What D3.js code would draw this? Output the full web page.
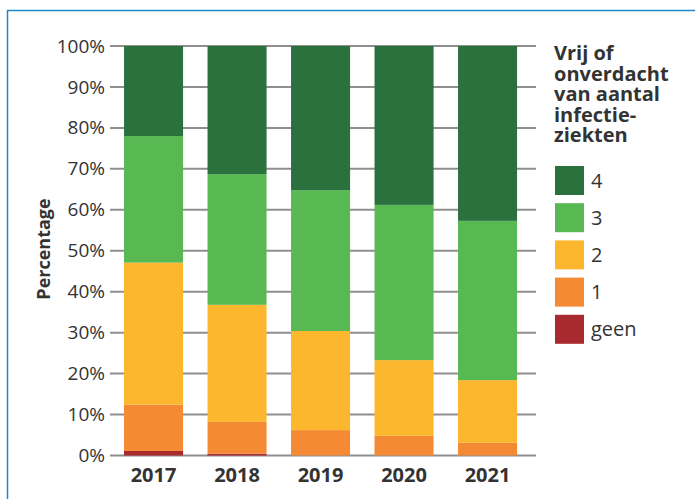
<!DOCTYPE html>
<html>
<head>
<meta charset="utf-8">
<script src="https://cdn.jsdelivr.net/npm/d3@7"></script>
<style>
  html, body { margin: 0; padding: 0; background: #fff; }
  svg { display: block; }
  text { font-family: "Open Sans", "Noto Sans", sans-serif; fill: #333; }
</style>
</head>
<body>
<svg id="chart" width="695" height="499"></svg>
<script>
const years = ["2017", "2018", "2019", "2020", "2021"];
const seriesKeys = ["geen", "1", "2", "3", "4"];
const geen = [1.1, 0.45, 0, 0, 0];
const een = [11.3, 7.75, 6.2, 4.8, 3.1];
const twee = [34.7, 28.6, 24.2, 18.5, 15.3];
const drie = [30.9, 31.9, 34.4, 37.9, 38.9];
const vier = [22.0, 31.3, 35.2, 38.8, 42.7];
const yTicks = [0, 10, 20, 30, 40, 50, 60, 70, 80, 90, 100];
const colors = ["#a82a2e", "#f48a34", "#fdb72f", "#58b952", "#2a713d"];
const legendTitle = ["Vrij of", "onverdacht", "van aantal", "infectie-", "ziekten"];
const yTitle = "Percentage";

const rows = years.map((y, i) => ({
  year: y, geen: geen[i], "1": een[i], "2": twee[i], "3": drie[i], "4": vier[i]
}));

const svg = d3.select("#chart");

// frame
svg.append("path")
  .attr("d", "M7.5,499 V10.5 H695")
  .attr("fill", "none")
  .attr("stroke", "#1a87c9")
  .attr("stroke-width", 1.5);

const x = d3.scaleBand().domain(years).range([111.8, 529.3])
  .paddingInner(0.293).paddingOuter(0.1465);
const y = d3.scaleLinear().domain([0, 100]).range([455.5, 46]);
const color = d3.scaleOrdinal().domain(seriesKeys).range(colors);

// gridlines
svg.append("g").selectAll("line").data(yTicks).join("line")
  .attr("x1", 110).attr("x2", 536)
  .attr("y1", d => y(d)).attr("y2", d => y(d))
  .attr("stroke", "#8f8f8f").attr("stroke-width", 2);

// y axis labels
const yAxis = d3.axisLeft(y).tickValues(yTicks).tickFormat(d => d + "%").tickSize(0).tickPadding(0);
const gy = svg.append("g").attr("transform", "translate(105,0)").call(yAxis);
gy.select(".domain").remove();
gy.selectAll("text").attr("font-size", 19).attr("fill", "#333")
  .style("font-family", '"Open Sans", sans-serif');

// bars
const stack = d3.stack().keys(seriesKeys)(rows);
svg.append("g").selectAll("g").data(stack).join("g")
  .attr("fill", d => color(d.key))
  .selectAll("rect").data(d => d).join("rect")
  .attr("x", d => x(d.data.year))
  .attr("width", x.bandwidth())
  .attr("y", d => y(d[1]))
  .attr("height", d => y(d[0]) - y(d[1]));

// x axis labels
const xAxis = d3.axisBottom(x).tickSize(0).tickPadding(0);
const gx = svg.append("g").attr("transform", "translate(0,468)").call(xAxis);
gx.select(".domain").remove();
gx.selectAll("text").attr("font-size", 20).attr("font-weight", "bold").attr("fill", "#333")
  .attr("dy", "0.71em")
  .style("font-family", '"Open Sans", sans-serif');

// y title
svg.append("text")
  .attr("transform", "translate(50,249) rotate(-90)")
  .attr("text-anchor", "middle")
  .attr("font-size", 18).attr("font-weight", "bold")
  .text(yTitle);

// legend title
svg.append("g").selectAll("text").data(legendTitle).join("text")
  .attr("x", 554).attr("y", (d, i) => 60 + i * 20.6)
  .attr("font-size", 20).attr("font-weight", "bold")
  .text(d => d);

// legend items
const legendOrder = seriesKeys.slice().reverse();
const lg = svg.append("g").selectAll("g").data(legendOrder).join("g")
  .attr("transform", (d, i) => `translate(555,${166 + i * 37.2})`);
lg.append("rect").attr("width", 29).attr("height", 29).attr("fill", d => color(d));
lg.append("text").attr("x", 36).attr("y", 14.5).attr("dy", "0.35em")
  .attr("font-size", 20).text(d => d);
</script>
</body>
</html>
